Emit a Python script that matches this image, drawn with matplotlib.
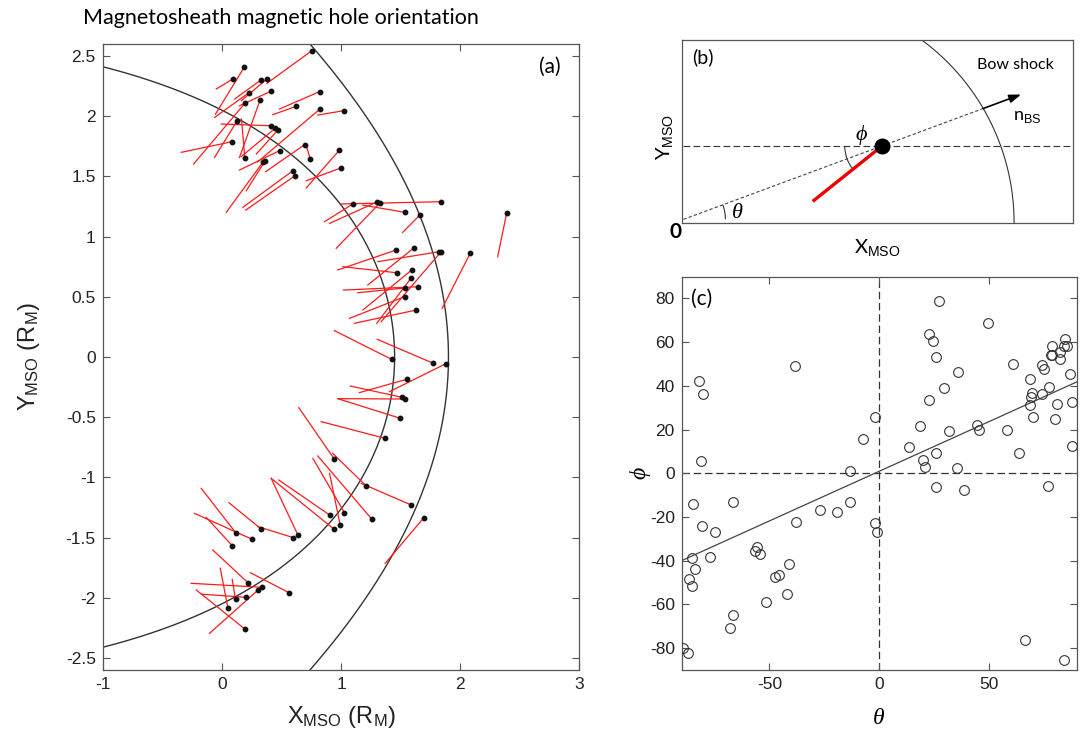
import numpy as np
import matplotlib
matplotlib.use('Agg')
import matplotlib.pyplot as plt
from matplotlib.patches import Arc

plt.rcParams['font.family'] = ['Liberation Sans', 'DejaVu Sans']
plt.rcParams['axes.unicode_minus'] = False
plt.rcParams['mathtext.fontset'] = 'custom'
plt.rcParams['mathtext.rm'] = 'Liberation Sans'
plt.rcParams['mathtext.it'] = 'Liberation Sans:italic'
plt.rcParams['mathtext.bf'] = 'Liberation Sans:bold'

CAL = ['Lato', 'DejaVu Sans']
SERIF = ['Liberation Serif', 'DejaVu Serif']

# ---------------- panel (a) data: hole positions and orientation end points (R_M)
hole_x = [0.755, 0.190, 0.092, 0.327, 0.381, 0.224, 0.414, 0.322, 0.193, 0.624,
          0.820, 0.820, 1.024, 0.129, 0.409, 0.450, 0.470, 0.084, 0.193, 0.484,
          0.694, 0.742, 0.987, 0.998, 0.344, 0.360, 0.596, 0.610,
          1.099, 1.300, 1.329, 1.841, 1.533, 1.659, 2.391, 2.084, 1.826, 1.836,
          1.463, 1.614, 1.466, 1.594, 1.589, 1.650, 1.533, 1.533, 1.631,
          1.424, 1.776, 1.879, 1.552, 1.513, 1.535, 1.497, 1.367,
          0.945, 1.211, 1.589, 1.029, 1.258, 0.993, 0.940, 0.904, 0.601, 0.638,
          0.330, 0.121, 0.249, 0.087, 1.695,
          0.218, 0.562, 0.339, 0.305, 0.199, 0.115, 0.050, 0.196]
hole_y = [2.544, 2.411, 2.309, 2.300, 2.312, 2.193, 2.209, 2.137, 2.107, 2.082,
          2.204, 2.057, 2.046, 1.963, 1.921, 1.902, 1.885, 1.788, 1.650, 1.714,
          1.763, 1.645, 1.719, 1.570, 1.617, 1.625, 1.547, 1.503,
          1.271, 1.287, 1.282, 1.290, 1.202, 1.177, 1.199, 0.861, 0.875, 0.870,
          0.889, 0.908, 0.700, 0.723, 0.656, 0.584, 0.573, 0.501, 0.390,
          -0.019, -0.053, -0.056, -0.185, -0.335, -0.349, -0.509, -0.675,
          -0.850, -1.071, -1.229, -1.293, -1.346, -1.395, -1.429, -1.312, -1.501, -1.478,
          -1.429, -1.465, -1.512, -1.567, -1.335,
          -1.874, -1.957, -1.913, -1.935, -1.996, -2.013, -2.082, -2.262]
end_x = [0.378, -0.053, -0.047, 0.107, 0.163, -0.061, 0.148, 0.148, -0.237, 0.428,
         0.484, 0.300, 0.805, -0.061, -0.005, 0.163, 0.289, -0.341, 0.165, 0.148,
         0.367, 0.710, 0.708, 0.708, 0.037, 0.205, 0.176, 0.200,
         0.862, 0.904, 0.960, 1.002, 1.183, 1.518, 2.315, 1.849, 1.309, 1.337,
         0.973, 1.225, 1.015, 1.183, 1.300, 1.021, 1.141, 1.071, 1.113,
         0.945, 1.304, 1.407, 1.155, 1.077, 0.973, 0.973, 0.834,
         0.646, 0.930, 1.170, 0.764, 0.805, 0.904, 0.414, 0.478, 0.302, 0.414,
         0.059, -0.173, -0.229, -0.131, 1.371,
         -0.076, 0.238, -0.257, -0.103, -0.173, 0.087, -0.013, -0.215]
end_y = [2.273, 2.018, 2.226, 2.143, 2.129, 1.990, 2.087, 1.658, 1.603, 2.013,
         2.060, 1.620, 2.010, 1.658, 1.935, 1.664, 1.686, 1.700, 1.977, 1.553,
         1.539, 1.750, 1.404, 1.464, 1.202, 1.381, 1.243, 1.220,
         1.124, 1.110, 0.903, 1.271, 1.262, 1.035, 0.833, 0.404, 0.792, 0.293,
         0.723, 0.598, 0.750, 0.390, 0.280, 0.556, 0.534, 0.321, 0.280,
         0.219, 0.147, -0.288, -0.296, -0.241, -0.346, -0.346, -0.537,
         -0.421, -0.800, -1.050, -0.842, -0.822, -0.966, -1.008, -1.022, -1.409, -1.008,
         -1.210, -1.091, -1.299, -1.332, -1.714,
         -1.603, -1.791, -1.880, -2.295, -1.970, -1.847, -1.755, -1.935]

# boundary models (magnetopause: standoff, flaring; bow shock: focus X0, p, eccentricity)
mp_standoff, mp_alpha = 1.45, 0.5
bs_x0, bs_p, bs_ecc = 0.5, 2.75, 1.04

# ---------------- panel (c) data (degrees)
theta_deg = [-81.9, -80.4, -81.1, -84.9, -66.7, -38.2, -2.0, -7.3, -13.1, -13.1,
             -27.1, -19.2, 13.7, 18.4, 22.8, 24.7, 25.9, 27.1, 22.8, 20.1,
             20.9, 25.9, 25.9, 29.7, 31.8, 36.1, 35.6, 38.8, 44.4, 45.4,
             49.8, 58.3, 61.0, 63.9, 68.8, 69.6, 69.3, 68.6, 70.2, 74.0,
             74.0, 74.9, 77.5, 76.7, 78.7, 78.5, 78.8, 82.2, 82.5, 81.0,
             79.9, 84.8, 85.5, 84.3, 86.8, 88.0, 87.7,
             -80.7, -74.6, -85.5, -76.9, -83.9, -86.9, -85.4, -89.2, -87.2, -68.2,
             -66.8, -51.4, -56.8, -55.6, -54.3, -47.3, -45.5, -41.2, -42.0, -37.7,
             -2.0, -0.9, 66.4, 84.0]
phi_deg = [42.3, 36.2, 5.6, -14.0, -13.1, 49.0, 25.7, 15.8, 1.1, -13.2,
           -16.7, -17.8, 11.9, 21.6, 63.6, 60.3, 53.1, 79.0, 33.5, 5.9,
           2.7, 9.1, -6.2, 39.1, 19.3, 46.4, 2.3, -7.6, 21.9, 19.8,
           68.9, 19.6, 50.1, 9.1, 42.9, 36.5, 34.7, 31.1, 25.9, 36.4,
           49.3, 47.5, 39.3, -5.9, 58.4, 54.3, 54.2, 55.4, 52.2, 31.8,
           25.0, 61.2, 58.1, 58.3, 45.5, 32.6, 12.6,
           -24.1, -26.9, -38.7, -38.4, -43.9, -48.4, -51.8, -79.9, -82.4, -70.8,
           -64.9, -59.1, -35.5, -33.8, -36.8, -47.4, -46.7, -41.3, -55.4, -22.1,
           -22.8, -26.8, -76.3, -85.4]
fit_slope, fit_intercept = 0.454, 0.9

W, H = 1086.0, 750.0
fig = plt.figure(figsize=(W / 100, H / 100), dpi=100)

AX_COL = '#555555'


def style_axes(ax):
    for s in ax.spines.values():
        s.set_color(AX_COL)
        s.set_linewidth(0.9)
    ax.tick_params(direction='in', top=True, right=True, length=5, width=0.8,
                   color=AX_COL, labelsize=12.5, labelcolor='#222222', pad=5)


# ================= panel (a)
axA = fig.add_axes([102.7 / W, 1 - 670 / H, 476.6 / W, 626 / H])
style_axes(axA)

t = np.linspace(-0.96 * np.pi, 0.96 * np.pi, 2000)
r_mp = mp_standoff * (2.0 / (1.0 + np.cos(t))) ** mp_alpha
axA.plot(r_mp * np.cos(t), r_mp * np.sin(t), color='#333333', lw=1.0, zorder=1)

tb = np.linspace(-np.radians(155), np.radians(155), 2000)
r_bs = bs_p * bs_ecc / (1.0 + bs_ecc * np.cos(tb))
axA.plot(bs_x0 + r_bs * np.cos(tb), r_bs * np.sin(tb), color='#333333', lw=1.0, zorder=1)

for x0, y0, x1, y1 in zip(hole_x, hole_y, end_x, end_y):
    axA.plot([x0, x1], [y0, y1], color='#ff1a1a', lw=0.9, zorder=2)
axA.plot(hole_x, hole_y, 'o', color='#111111', ms=3.2, zorder=3)

axA.set_xlim(-1, 3)
axA.set_ylim(-2.6, 2.6)
axA.set_xticks([-1, 0, 1, 2, 3])
axA.set_yticks(np.arange(-2.5, 2.51, 0.5))
axA.set_yticklabels(['-2.5', '-2', '-1.5', '-1', '-0.5', '0', '0.5', '1', '1.5', '2', '2.5'])
axA.text(2.75, 2.41, '(a)', fontsize=15, family=CAL, ha='center', va='center')

fig.text(341 / W, 1 - 717 / H, r'X$_{\rm MSO}$ (R$_{\rm M}$)', fontsize=17,
         ha='center', va='center', color='#222222')
fig.text(29 / W, 1 - 357 / H, r'Y$_{\rm MSO}$ (R$_{\rm M}$)', fontsize=17,
         ha='center', va='center', rotation=90, color='#222222')
fig.text(281 / W, 1 - 18 / H, 'Magnetosheath magnetic hole orientation', fontsize=15.5,
         family=CAL, ha='center', va='center')

# ================= panel (b) schematic
bw, bh = 391.0, 182.7
axB = fig.add_axes([681.7 / W, 1 - 222.7 / H, bw / W, bh / H])
for s in axB.spines.values():
    s.set_color(AX_COL)
    s.set_linewidth(0.9)
axB.set_xticks([])
axB.set_yticks([])
axB.set_xlim(0, bw)
axB.set_ylim(0, bh)

sch_origin = np.array([1.7, 3.3])
sch_theta = np.radians(20.3)
sch_dot_dist = 212.0
sch_arrow_dist = 360.0
sch_hole_angle = np.radians(218.6)
sch_hole_len = 89.0
bs_center = np.array([105.5, 0.0])
bs_radius = 226.9

u = np.array([np.cos(sch_theta), np.sin(sch_theta)])
dot = sch_origin + sch_dot_dist * u
d = sch_origin - bs_center
bq = 2 * np.dot(u, d)
cq = np.dot(d, d) - bs_radius ** 2
s_hit = (-bq + np.sqrt(bq * bq - 4 * cq)) / 2
hit = sch_origin + s_hit * u
tip = sch_origin + sch_arrow_dist * u

tt = np.linspace(0, np.pi / 2, 400)
axB.plot(bs_center[0] + bs_radius * np.cos(tt), bs_center[1] + bs_radius * np.sin(tt),
         color='#333333', lw=0.8)
axB.plot([sch_origin[0], hit[0]], [sch_origin[1], hit[1]], color='#444444', lw=0.8,
         dashes=(3, 2))
axB.plot([sch_origin[0], bw], [dot[1], dot[1]], color='#333333', lw=0.8, dashes=(6, 3))
axB.annotate('', xy=tip, xytext=hit,
             arrowprops=dict(arrowstyle='-|>,head_length=0.7,head_width=0.25',
                             color='black', lw=1.2, shrinkA=0, shrinkB=0))
hole_end = dot + sch_hole_len * np.array([np.cos(sch_hole_angle), np.sin(sch_hole_angle)])
axB.plot([dot[0], hole_end[0]], [dot[1], hole_end[1]], color='#ee0000', lw=2.4,
         solid_capstyle='butt')
axB.plot([dot[0]], [dot[1]], 'o', color='black', ms=10.5)
axB.add_patch(Arc(sch_origin, 84, 84, theta1=0, theta2=np.degrees(sch_theta),
                  color='#333333', lw=0.8))
axB.add_patch(Arc(dot, 75, 75, theta1=180, theta2=np.degrees(sch_hole_angle),
                  color='#333333', lw=0.8))
axB.text(56, 9, 'θ', family=SERIF, style='italic', fontsize=16, ha='center', va='center')
axB.text(180, 88, 'ϕ', family=SERIF, style='italic', fontsize=16, ha='center', va='center')
axB.text(21, 165, '(b)', family=CAL, fontsize=14, ha='center', va='center')
axB.text(334, 158, 'Bow shock', family=CAL, fontsize=11.5, ha='center', va='center')
axB.text(346, 106, r'n$_{\rm BS}$', family=CAL, fontsize=13, ha='center', va='center')

fig.text(675 / W, 1 - 232 / H, '0', family=CAL, fontsize=15, fontweight='bold',
         ha='center', va='center')
fig.text(877 / W, 1 - 248 / H, r'X$_{\rm MSO}$', family=CAL, fontsize=14.5,
         ha='center', va='center')
fig.text(665 / W, 1 - 137 / H, r'Y$_{\rm MSO}$', family=CAL, fontsize=14.5,
         ha='center', va='center', rotation=90)

# ================= panel (c)
axC = fig.add_axes([681.7 / W, 1 - 670 / H, 395 / W, 393.5 / H])
style_axes(axC)
axC.axhline(0, color='#333333', lw=0.9, dashes=(6, 3), zorder=1)
axC.axvline(0, color='#333333', lw=0.9, dashes=(6, 3), zorder=1)
xf = np.array([-90.0, 90.0])
axC.plot(xf, fit_slope * xf + fit_intercept, color='#444444', lw=0.9, zorder=2)
axC.plot(theta_deg, phi_deg, 'o', mfc='none', mec='#333333', ms=7, mew=0.8, zorder=3)
axC.set_xlim(-90, 90)
axC.set_ylim(-90, 90)
axC.set_xticks([-50, 0, 50])
axC.set_yticks(np.arange(-80, 81, 20))
axC.text(-81, 80, '(c)', family=CAL, fontsize=15, ha='center', va='center')

fig.text(879 / W, 1 - 718 / H, 'θ', family=SERIF, style='italic', fontsize=17,
         ha='center', va='center')
fig.text(640 / W, 1 - 473 / H, 'ϕ', family=SERIF, style='italic', fontsize=17,
         ha='center', va='center', rotation=90)

fig.savefig('out.png', dpi=100)
